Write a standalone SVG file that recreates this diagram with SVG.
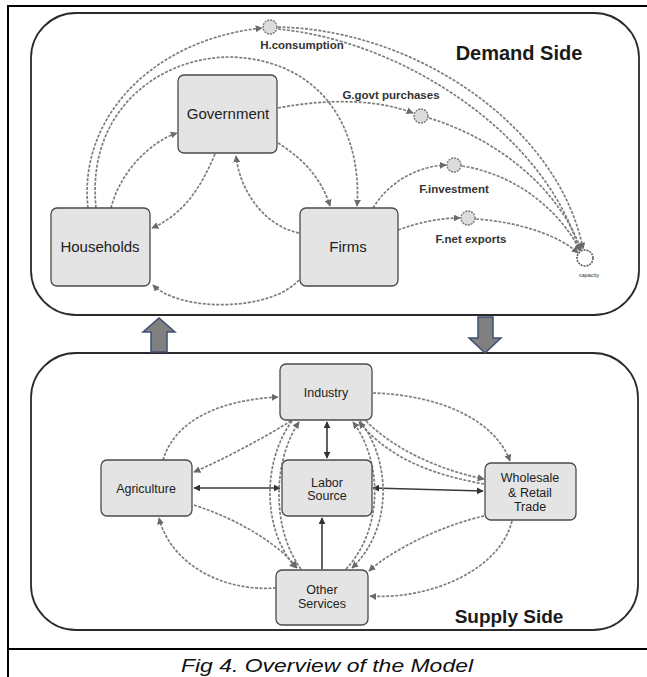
<svg xmlns="http://www.w3.org/2000/svg" width="647" height="677" viewBox="0 0 647 677">
<defs>
<style>
.node rect{fill:#e4e4e4;stroke:#4a4a4a;stroke-width:1.3}
.lbl{font-family:"Liberation Sans",Arial,sans-serif;fill:#222;text-anchor:middle}
.big{font-size:15px}
.sm{font-size:12.5px}
.c{fill:none;stroke:#7d7d7d;stroke-width:1.7;stroke-dasharray:3 1.5}
.s{fill:none;stroke:#3a3a3a;stroke-width:1.6}
.valve{fill:#dcdcdc;stroke:#777;stroke-width:1.4;stroke-dasharray:2 1}
.flab{font-family:"Liberation Sans",Arial,sans-serif;font-size:11.5px;font-weight:bold;fill:#333;text-anchor:middle}
.side{font-family:"Liberation Sans",Arial,sans-serif;font-weight:bold;fill:#1a1a1a;text-anchor:middle}
.box{fill:none;stroke:#2a2a2a;stroke-width:1.8}
.blk{fill:#808080;stroke:#3d4f73;stroke-width:1.5}
</style>
<marker id="ah" viewBox="0 0 10 10" refX="9" refY="5" markerWidth="7" markerHeight="7" orient="auto-start-reverse" markerUnits="userSpaceOnUse">
<path d="M0,0 L10,5 L0,10 z" fill="#6a6a6a"/>
</marker>
<marker id="as" viewBox="0 0 10 10" refX="9" refY="5" markerWidth="7" markerHeight="7" orient="auto-start-reverse" markerUnits="userSpaceOnUse">
<path d="M0,0 L10,5 L0,10 z" fill="#333"/>
</marker>
</defs>

<rect id="frame" x="8" y="6" width="700" height="700" fill="none" stroke="#000" stroke-width="2"/>
<line x1="8" y1="649" x2="647" y2="649" stroke="#000" stroke-width="2"/>

<g id="demand-side">
<rect class="box" x="31" y="13" width="608" height="302" rx="45" ry="45"/>
<text class="side" x="519" y="60" font-size="20">Demand Side</text>
</g>
<g id="supply-side">
<rect class="box" x="31" y="353" width="607" height="277" rx="45" ry="45"/>
<text class="side" x="509" y="623" font-size="19">Supply Side</text>
</g>

<g id="block-arrows">
<polygon class="blk" points="151,352 151,332 143,332 159,318 175,332 167,332 167,352"/>
<polygon class="blk" points="478,317 478,338 469,338 485,353 501,338 493,338 493,317"/>
</g>

<g id="connectors">
<!-- demand side -->
<path class="c" d="M88,208 C78,120 150,40 262,28" marker-end="url(#ah)"/>
<path class="c" d="M278,27 C420,30 560,130 583,249" marker-end="url(#ah)"/>
<path class="c" d="M278,29 C410,42 548,140 579,250"/>
<path class="c" d="M96,208 C86,110 160,57 230,57 C330,60 362,140 357,206" marker-end="url(#ah)"/>
<path class="c" d="M111,208 C120,172 150,142 177,133" marker-end="url(#ah)"/>
<path class="c" d="M215,154 C200,190 182,215 152,228" marker-end="url(#ah)"/>
<path class="c" d="M299,233 C265,226 240,192 236,156" marker-end="url(#ah)"/>
<path class="c" d="M278,143 C305,160 322,180 330,206" marker-end="url(#ah)"/>
<path class="c" d="M299,280 C270,312 180,312 153,285" marker-end="url(#ah)"/>
<path class="c" d="M278,108 C330,98 380,100 413,113" marker-end="url(#ah)"/>
<path class="c" d="M429,118 C500,140 560,190 581,250" marker-end="url(#ah)"/>
<path class="c" d="M373,208 C390,180 420,166 446,165" marker-end="url(#ah)"/>
<path class="c" d="M462,166 C520,175 563,215 580,251" marker-end="url(#ah)"/>
<path class="c" d="M398,230 C420,222 440,218 460,218" marker-end="url(#ah)"/>
<path class="c" d="M476,219 C520,222 560,236 578,253" marker-end="url(#ah)"/>
<!-- supply side -->
<path class="c" d="M163,460 C175,420 220,400 278,397" marker-end="url(#ah)"/>
<path class="c" d="M291,421 C260,440 222,460 194,472" marker-end="url(#ah)"/>
<path class="s" d="M194,488 L280,488" marker-start="url(#as)" marker-end="url(#as)"/>
<path class="s" d="M373,488 L483,491" marker-start="url(#as)" marker-end="url(#as)"/>
<path class="s" d="M327,422 L327,458" marker-start="url(#as)" marker-end="url(#as)"/>
<path class="s" d="M322,569 L322,518" marker-end="url(#as)"/>
<path class="c" d="M194,505 C240,520 280,545 297,568" marker-end="url(#ah)"/>
<path class="c" d="M276,588 C220,592 170,562 159,518" marker-end="url(#ah)"/>
<path class="c" d="M292,421 C262,462 262,530 296,568" marker-end="url(#ah)"/>
<path class="c" d="M301,569 C272,530 272,462 299,422" marker-end="url(#ah)"/>
<path class="c" d="M360,421 C392,462 392,530 352,568" marker-end="url(#ah)"/>
<path class="c" d="M346,569 C383,530 383,462 353,422" marker-end="url(#ah)"/>
<path class="c" d="M373,393 C440,395 495,420 510,461" marker-end="url(#ah)"/>
<path class="c" d="M484,484 C440,476 392,462 359,422" marker-end="url(#ah)"/>
<path class="c" d="M366,421 C395,450 440,470 484,479" marker-end="url(#ah)"/>
<path class="c" d="M484,516 C440,526 392,550 369,571" marker-end="url(#ah)"/>
<path class="c" d="M512,521 C500,570 430,600 370,596" marker-end="url(#ah)"/>
</g>

<g id="valve-hconsumption">
<circle class="valve" cx="270" cy="27" r="7"/>
<text class="flab" x="302" y="49">H.consumption</text>
</g>
<g id="valve-govt">
<circle class="valve" cx="421" cy="116" r="7"/>
<text class="flab" x="391" y="99">G.govt purchases</text>
</g>
<g id="valve-investment">
<circle class="valve" cx="454" cy="165" r="7"/>
<text class="flab" x="454" y="193">F.investment</text>
</g>
<g id="valve-exports">
<circle class="valve" cx="468" cy="218" r="7"/>
<text class="flab" x="471" y="243">F.net exports</text>
</g>
<g id="sink">
<circle cx="585" cy="258" r="8" fill="#fff" stroke="#555" stroke-width="1.5" stroke-dasharray="2 1"/>
<text x="589" y="277" font-family="Liberation Sans,Arial,sans-serif" font-size="5.5" fill="#333" text-anchor="middle">capacity</text>
</g>

<g id="government" class="node">
<rect x="178" y="75" width="99" height="78" rx="6"/>
<text class="lbl big" x="228" y="119">Government</text>
</g>
<g id="households" class="node">
<rect x="51" y="208" width="99" height="78" rx="6"/>
<text class="lbl big" x="100" y="252">Households</text>
</g>
<g id="firms" class="node">
<rect x="300" y="208" width="98" height="78" rx="6"/>
<text class="lbl big" x="348" y="252">Firms</text>
</g>

<g id="industry" class="node">
<rect x="280" y="364" width="92" height="56" rx="6"/>
<text class="lbl sm" x="326" y="397">Industry</text>
</g>
<g id="agriculture" class="node">
<rect x="101" y="460" width="91" height="56" rx="6"/>
<text class="lbl sm" x="146" y="493">Agriculture</text>
</g>
<g id="labor-source" class="node">
<rect x="282" y="460" width="90" height="56" rx="6"/>
<text class="lbl sm" x="327" y="487">Labor</text>
<text class="lbl sm" x="327" y="500">Source</text>
</g>
<g id="wholesale" class="node">
<rect x="485" y="463" width="91" height="57" rx="6"/>
<text class="lbl sm" x="530" y="482">Wholesale</text>
<text class="lbl sm" x="530" y="497">&amp; Retail</text>
<text class="lbl sm" x="530" y="511">Trade</text>
</g>
<g id="other-services" class="node">
<rect x="276" y="570" width="92" height="55" rx="6"/>
<text class="lbl sm" x="322" y="594">Other</text>
<text class="lbl sm" x="322" y="608">Services</text>
</g>

<text id="caption" x="327" y="672" font-family="Liberation Sans,Arial,sans-serif" font-style="italic" font-size="19" fill="#111" text-anchor="middle" textLength="292" lengthAdjust="spacingAndGlyphs">Fig 4. Overview of the Model</text>
</svg>
